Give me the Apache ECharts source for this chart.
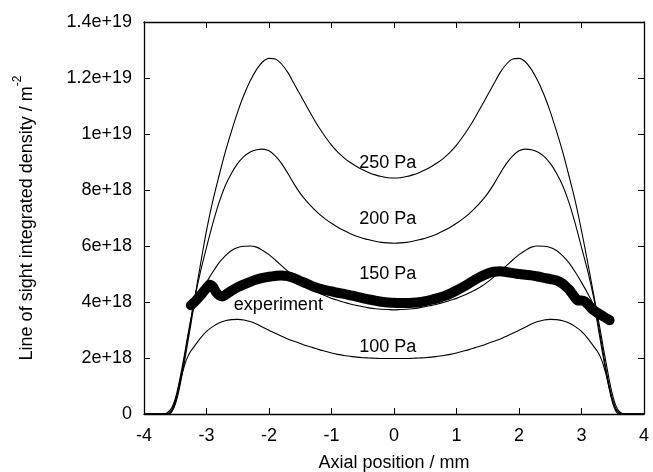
<!DOCTYPE html>
<html>
<head>
<meta charset="utf-8">
<script src="https://cdn.jsdelivr.net/npm/echarts@6/dist/echarts.min.js"></script>
<style>html,body{margin:0;padding:0;background:#fff}#c{width:653px;height:472px}</style>
</head>
<body>
<div id="c"></div>
<script>
// x positions (mm) shared by the model curves
const xGrid = [-4,-3.7,-3.65,-3.6,-3.55,-3.5,-3.45,-3.4,-3.35,-3.3,-3.25,
  -3.2,-3.1,-3.0,-2.9,-2.8,-2.7,-2.6,-2.5,-2.4,-2.3,-2.2,-2.1,-2.0,-1.9,-1.8,-1.7,-1.6,-1.5,-1.4,-1.3,-1.2,-1.1,-1.0,-0.9,-0.8,-0.7,-0.6,-0.5,-0.4,-0.3,-0.2,-0.1,0,
  0.1,0.2,0.3,0.4,0.5,0.6,0.7,0.8,0.9,1.0,1.1,1.2,1.3,1.4,1.5,1.6,1.7,1.8,1.9,2.0,2.1,2.2,2.3,2.4,2.5,2.6,2.7,2.8,2.9,3.0,3.1,3.2,
  3.25,3.3,3.35,3.4,3.45,3.5,3.55,3.6,3.65,3.7,4];

// model densities, units of 1e18 m^-2
const p250 = [0,0,0.02,0.1,0.25,0.55,1.0,1.55,2.15,2.8,3.4,
  4.0,5.3,6.55,7.6,8.5,9.35,10.1,10.8,11.4,11.9,12.3,12.58,12.7,12.68,12.5,12.2,11.8,11.4,11.0,10.6,10.23,9.9,9.6,9.35,9.15,8.98,8.84,8.72,8.62,8.54,8.48,8.44,8.43,
  8.44,8.48,8.54,8.62,8.72,8.84,8.98,9.15,9.35,9.6,9.9,10.23,10.6,11.0,11.4,11.8,12.2,12.5,12.68,12.7,12.58,12.3,11.9,11.4,10.8,10.1,9.35,8.5,7.6,6.55,5.4,4.2,
  3.6,3.0,2.35,1.75,1.15,0.65,0.3,0.1,0.02,0,0];
const p200 = [0,0,0,0.05,0.18,0.45,0.9,1.45,2.05,2.7,3.35,
  4.0,5.05,5.95,6.8,7.55,8.15,8.6,8.95,9.2,9.36,9.44,9.46,9.4,9.22,8.95,8.6,8.22,7.88,7.6,7.36,7.15,6.97,6.81,6.67,6.55,6.44,6.35,6.28,6.22,6.17,6.13,6.11,6.1,
  6.11,6.13,6.17,6.22,6.28,6.35,6.44,6.55,6.67,6.81,6.97,7.15,7.36,7.6,7.88,8.22,8.6,8.95,9.22,9.4,9.46,9.44,9.36,9.2,8.95,8.6,8.15,7.55,6.8,5.95,5.1,4.1,
  3.45,2.8,2.15,1.5,0.95,0.5,0.2,0.06,0,0,0];
const p150 = [0,0,0,0.02,0.12,0.35,0.75,1.3,1.9,2.55,3.2,
  3.8,4.3,4.7,5.07,5.4,5.65,5.84,5.95,5.99,6.0,5.96,5.84,5.69,5.5,5.3,5.1,4.9,4.72,4.56,4.43,4.32,4.22,4.13,4.06,3.99,3.93,3.88,3.83,3.79,3.76,3.74,3.73,3.72,
  3.73,3.74,3.76,3.79,3.83,3.88,3.93,3.99,4.06,4.13,4.22,4.32,4.43,4.56,4.72,4.9,5.1,5.3,5.5,5.69,5.84,5.96,6.0,5.99,5.95,5.84,5.65,5.4,5.07,4.7,4.3,3.85,
  3.3,2.65,2.0,1.4,0.85,0.4,0.14,0.03,0,0,0];
const p100 = [0,0,0,0,0.1,0.4,0.85,1.35,1.75,2.05,2.25,
  2.4,2.7,2.95,3.12,3.25,3.33,3.37,3.38,3.36,3.3,3.21,3.1,2.99,2.88,2.78,2.68,2.6,2.52,2.44,2.37,2.3,2.24,2.18,2.13,2.09,2.06,2.03,2.01,2.0,1.99,1.98,1.98,1.98,
  1.98,1.98,1.99,2.0,2.01,2.03,2.06,2.09,2.13,2.18,2.24,2.3,2.37,2.44,2.52,2.6,2.68,2.78,2.88,2.99,3.1,3.21,3.3,3.36,3.38,3.37,3.33,3.25,3.12,2.95,2.7,2.4,
  2.25,2.05,1.75,1.35,0.85,0.4,0.1,0,0,0,0];

// experiment
const expX = [-3.25,-3.2,-3.15,-3.1,-3.05,-3.0,-2.95,-2.9,-2.85,-2.8,-2.75,-2.7,
  -2.6,-2.5,-2.4,-2.3,-2.2,-2.1,-2.0,-1.9,-1.8,-1.7,-1.6,-1.5,-1.4,-1.3,-1.2,-1.1,-1.0,-0.9,-0.8,-0.7,-0.6,-0.5,-0.4,-0.3,-0.2,-0.1,0,
  0.1,0.2,0.3,0.4,0.5,0.6,0.7,0.8,0.9,1.0,1.1,1.2,1.3,1.4,1.5,1.6,1.7,1.8,1.9,2.0,2.1,2.2,2.3,2.4,2.5,2.6,2.7,
  2.75,2.8,2.85,2.9,2.95,3.0,3.05,3.1,3.15,3.2,3.3,3.4,3.45];
const expY = [3.88,3.98,4.1,4.22,4.36,4.5,4.62,4.55,4.36,4.24,4.2,4.25,
  4.4,4.53,4.63,4.72,4.8,4.86,4.9,4.93,4.95,4.92,4.85,4.75,4.66,4.56,4.48,4.42,4.38,4.33,4.29,4.24,4.19,4.14,4.09,4.05,4.01,3.98,3.97,
  3.96,3.96,3.97,3.99,4.03,4.08,4.14,4.21,4.3,4.41,4.53,4.66,4.8,4.92,5.02,5.08,5.1,5.07,5.03,5.0,4.97,4.95,4.91,4.86,4.82,4.77,4.65,
  4.55,4.45,4.3,4.15,4.05,4.05,4.02,3.92,3.8,3.7,3.55,3.42,3.35];

// tick labels
const yTickLabels = ['0','2e+18','4e+18','6e+18','8e+18','1e+19','1.2e+19','1.4e+19'];
const xTickLabels = ['-4','-3','-2','-1','0','1','2','3','4'];

// annotations
const noteText = ['250 Pa','200 Pa','150 Pa','100 Pa','experiment'];
const noteX = [-0.1,-0.1,-0.1,-0.1,-1.85];
const noteY = [8.96,6.98,5.0,2.39,3.89];

const zip = (xs, ys) => xs.map((x, i) => [x, ys[i]]);
const FONT = 'Liberation Sans, Arial, sans-serif';

const chart = echarts.init(document.getElementById('c'), null, {renderer: 'canvas'});
const axisLine = {show: true, onZero: false, lineStyle: {color: '#000', width: 1.3}};
const tick = {show: true, inside: true, length: 6, lineStyle: {color: '#000', width: 1}};
const modelLine = (data) => ({
  type: 'line', data, symbol: 'none', smooth: 0.3, xAxisIndex: 0, yAxisIndex: 0,
  lineStyle: {color: '#000', width: 1.1}, z: 3, silent: true
});

chart.setOption({
  animation: false,
  backgroundColor: '#fff',
  grid: {left: 144, right: 9, top: 22, bottom: 58, containLabel: false, outerBoundsMode: 'none'},
  xAxis: [
    {type: 'value', position: 'bottom', min: -4, max: 4, interval: 1,
     axisLine, axisTick: tick, splitLine: {show: false},
     axisLabel: {color: '#000', fontSize: 18, fontFamily: FONT, margin: 13,
       formatter: v => xTickLabels[Math.round(v + 4)]},
     name: 'Axial position / mm', nameLocation: 'middle', nameGap: 40,
     nameTextStyle: {color: '#000', fontSize: 18, fontFamily: FONT}},
    {type: 'value', position: 'top', min: -4, max: 4, interval: 1,
     axisLine, axisTick: tick, axisLabel: {show: false}, splitLine: {show: false}}
  ],
  yAxis: [
    {type: 'value', position: 'left', min: 0, max: 14, interval: 2,
     axisLine, axisTick: tick, splitLine: {show: false},
     axisLabel: {color: '#000', fontSize: 18, fontFamily: FONT, margin: 12,
       formatter: v => yTickLabels[Math.round(v / 2)]},
     name: '{a|Line of sight integrated density / m}{b|-2}',
     nameLocation: 'middle', nameGap: 108, nameRotate: 90,
     nameTextStyle: {color: '#000', fontSize: 18, fontFamily: FONT,
       rich: {a: {fontSize: 18, fontFamily: FONT, color: '#000', verticalAlign: 'bottom', lineHeight: 24},
              b: {fontSize: 12, fontFamily: FONT, color: '#000', verticalAlign: 'top', lineHeight: 24}}}},
    {type: 'value', position: 'right', min: 0, max: 14, interval: 2,
     axisLine, axisTick: tick, axisLabel: {show: false}, splitLine: {show: false}}
  ],
  series: [
    modelLine(zip(xGrid, p250)),
    modelLine(zip(xGrid, p200)),
    modelLine(zip(xGrid, p150)),
    modelLine(zip(xGrid, p100)),
    {type: 'line', data: zip(expX, expY), symbol: 'none', smooth: 0.3,
     lineStyle: {color: '#000', width: 10, join: 'round', cap: 'round'}, z: 4, silent: true},
    {type: 'scatter', data: noteText.map((t, i) => ({value: [noteX[i], noteY[i]], name: t})),
     symbolSize: 0.1, itemStyle: {color: '#fff', opacity: 1}, z: 5, silent: true,
     label: {show: true, position: 'inside', formatter: p => p.name, opacity: 1,
       color: '#000', textBorderWidth: 0, fontSize: 18, fontFamily: FONT}}
  ]
});
</script>
</body>
</html>
